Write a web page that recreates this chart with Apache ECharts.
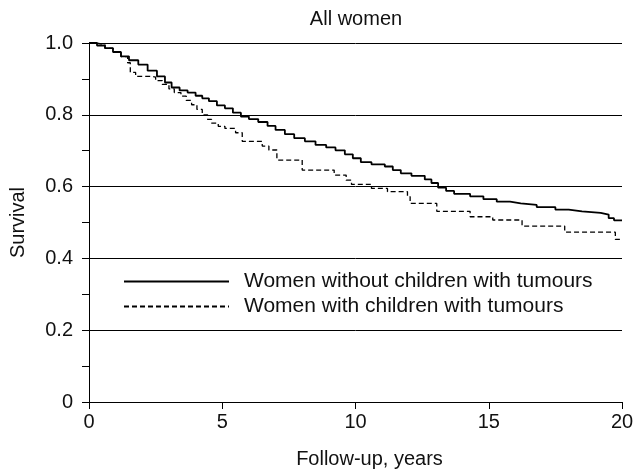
<!DOCTYPE html>
<html>
<head>
<meta charset="utf-8">
<script src="https://cdn.jsdelivr.net/npm/echarts@6/dist/echarts.min.js"></script>
<style>
html,body{margin:0;padding:0;background:#fff;}
#c{width:636px;height:475px;}
</style>
</head>
<body>
<div id="c"></div>
<script>
var titleText = 'All women';
var xName = 'Follow-up, years';
var yName = 'Survival';
var seriesNames = ['Women without children with tumours', 'Women with children with tumours'];

// Women without children with tumours (solid)
var withoutTimes = [0,0.3,0.6,0.9,1.2,1.5,1.85,2.2,2.55,2.85,3.1,3.4,3.7,4.0,4.25,4.5,4.8,5.1,5.4,5.7,6.0,6.35,6.7,7.0,7.35,7.7,8.1,8.5,8.9,9.25,9.6,9.9,10.2,10.6,11.1,11.4,11.7,12.1,12.6,12.85,13.1,13.4,13.7,14.3,14.8,15.3,15.8,16.2,16.8,17.5,18.0,18.5,19.2,19.5,19.7,20];
var withoutSurv  = [1.0,0.993,0.986,0.975,0.963,0.952,0.94,0.923,0.907,0.89,0.876,0.868,0.862,0.853,0.846,0.838,0.826,0.818,0.806,0.795,0.788,0.78,0.769,0.758,0.746,0.735,0.726,0.716,0.709,0.701,0.69,0.679,0.668,0.662,0.656,0.646,0.637,0.63,0.62,0.61,0.597,0.588,0.58,0.573,0.565,0.558,0.553,0.549,0.543,0.536,0.531,0.527,0.522,0.512,0.506,0.506];

// Women with children with tumours (dashed)
var withTimes = [0,0.3,0.6,0.9,1.2,1.45,1.55,1.75,2.35,2.5,2.75,3.0,3.2,3.45,3.65,3.85,4.05,4.25,4.45,4.6,4.85,5.1,5.5,5.75,6.5,6.75,7.05,8.0,9.2,9.65,9.85,10.6,11.2,11.95,12.05,13.05,14.3,15.15,16.25,17.85,19.75,20];
var withSurv  = [1.0,0.995,0.985,0.975,0.962,0.945,0.918,0.907,0.905,0.895,0.885,0.872,0.862,0.852,0.84,0.828,0.815,0.8,0.787,0.777,0.768,0.762,0.75,0.726,0.713,0.702,0.674,0.646,0.632,0.618,0.606,0.595,0.586,0.572,0.553,0.531,0.516,0.507,0.49,0.473,0.453,0.453];

var xTicks = [0,5,10,15,20];
var yTicks = [0,0.2,0.4,0.6,0.8,1.0];

function zip(a,b){ return a.map(function(v,i){ return [v,b[i]]; }); }

var FONT = '"Liberation Sans", Arial, sans-serif';
var chart = echarts.init(document.getElementById('c'), null, {renderer:'canvas'});
chart.setOption({
  animation:false,
  backgroundColor:'#fff',
  textStyle:{fontFamily:FONT},
  title:{
    text:titleText, left:356, top:9, textAlign:'center', padding:0,
    textStyle:{fontSize:20, fontWeight:'normal', color:'#111', fontFamily:FONT}
  },
  grid:{left:89, right:14, top:43, bottom:73, containLabel:false, outerBoundsMode:'none'},
  legend:{
    orient:'vertical', left:123, top:271, padding:0, itemWidth:105, itemHeight:22, itemGap:4,
    data:seriesNames,
    itemStyle:{color:'rgba(0,0,0,0)', borderColor:'rgba(0,0,0,0)', borderWidth:0, opacity:0},
    textStyle:{fontSize:21, color:'#111', fontFamily:FONT, padding:[0,0,0,10]}
  },
  xAxis:{
    type:'value', min:xTicks[0], max:xTicks[xTicks.length-1], interval:5,
    name:xName, nameLocation:'middle', nameGap:47,
    nameTextStyle:{fontSize:20, color:'#111', fontFamily:FONT, padding:[0,0,0,28]},
    axisLine:{show:true, onZero:false, lineStyle:{color:'#000', width:1}},
    axisTick:{show:true, inside:false, length:7, lineStyle:{color:'#000'}},
    axisLabel:{fontSize:20, color:'#111', margin:10, fontFamily:FONT},
    splitLine:{show:false}
  },
  yAxis:{
    type:'value', min:yTicks[0], max:yTicks[yTicks.length-1], interval:0.2,
    name:yName, nameLocation:'middle', nameGap:61, nameRotate:90,
    nameTextStyle:{fontSize:20, color:'#111', fontFamily:FONT},
    axisLine:{show:true, onZero:false, lineStyle:{color:'#000', width:1}},
    axisTick:{show:true, inside:false, length:7, lineStyle:{color:'#000'}},
    minorTick:{show:true, splitNumber:2, length:7, lineStyle:{color:'#000'}},
    axisLabel:{fontSize:20, color:'#111', margin:16, fontFamily:FONT,
      formatter:function(v){ return v===0 ? '0' : v.toFixed(1); }},
    splitLine:{show:true, lineStyle:{color:'#000', width:1}}
  },
  series:[
    {
      name:seriesNames[0], type:'line', step:'end', symbol:'none', showSymbol:false,
      data:zip(withoutTimes, withoutSurv),
      lineStyle:{color:'#000', width:1.8, type:'solid'},
      itemStyle:{color:'#000'}, z:3
    },
    {
      name:seriesNames[1], type:'line', step:'end', symbol:'none', showSymbol:false,
      data:zip(withTimes, withSurv),
      lineStyle:{color:'#000', width:1.3, type:[5,3]},
      itemStyle:{color:'#000'}, z:3
    }
  ]
});
</script>
</body>
</html>
